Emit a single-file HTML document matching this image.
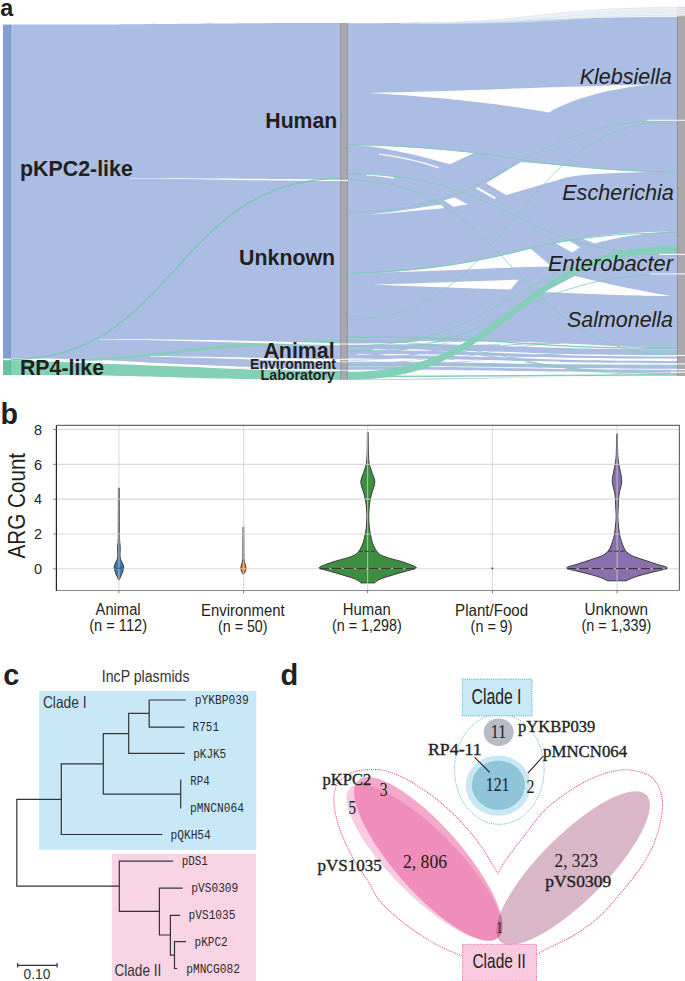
<!DOCTYPE html>
<html><head><meta charset="utf-8"><style>
html,body{margin:0;padding:0;background:#fff;}
body{width:685px;height:981px;overflow:hidden;}
svg{display:block;}
</style></head><body>
<svg width="685" height="981" viewBox="0 0 685 981">
<rect width="685" height="981" fill="#fff"/>
<path d="M11,24.6 C175.5,24.6 175.5,23 340,23 L340,370.5 C175.5,370.5 175.5,358.6 11,358.6 Z" fill="#abbde2"/>
<path d="M348,23.3 C512.5,23.3 512.5,16 677,16 L677,376 C512.5,376 512.5,379.8 348,379.8 Z" fill="#abbde2"/>
<path d="M400,23.2 C520,23 560,7 677,6.8 L677,17 C560,17 500,23 400,23.4 Z" fill="#f2f4fa"/>
<path d="M400,23.2 C538.5,23.2 538.5,7.6 677,7.6" fill="none" stroke="#dce3f2" stroke-width="0.8"/>
<path d="M420,23.1 C548.5,23.1 548.5,9.3 677,9.3" fill="none" stroke="#e3e8f5" stroke-width="0.7"/>
<path d="M440,23 C558.5,23 558.5,10.8 677,10.8" fill="none" stroke="#d8ece5" stroke-width="0.7"/>
<path d="M430,23 C553.5,23 553.5,12.4 677,12.4" fill="none" stroke="#dfe5f3" stroke-width="0.8"/>
<path d="M450,22.9 C563.5,22.9 563.5,13.9 677,13.9" fill="none" stroke="#dcefe8" stroke-width="0.7"/>
<path d="M470,22.8 C573.5,22.8 573.5,15.2 677,15.2" fill="none" stroke="#d5def0" stroke-width="0.8"/>
<path d="M11,360.2 C175.5,360.2 175.5,370.8 340,370.8 L340,379.8 C175.5,379.8 175.5,375 11,375 Z" fill="#83cfb7"/>
<path d="M11,361 C175.5,361 175.5,340.6 340,340.6 L340,344 C175.5,344 175.5,363 11,363 Z" fill="#83cfb7"/>
<path d="M130,178.3 C230,178.3 250,179 340,179.4 L340,181 C250,181 230,179.2 130,178.7 Z" fill="#fff"/>
<path d="M100,339 C200,339.3 260,341 340,343.4 L340,345.2 C260,343.6 200,340.6 100,339.5 Z" fill="#fff"/>
<path d="M150,356 C230,357 280,358.5 340,359.2 L340,362 C280,361 230,358.5 150,356.6 Z" fill="#fff"/>
<path d="M20,359.4 C120,360 250,368 340,369.8 L340,371 C250,370 120,364 20,360.6 Z" fill="#fff"/>
<path d="M11,359.6 C175.5,359.6 175.5,178.6 340,178.6" fill="none" stroke="#72c9ad" stroke-width="1.3"/>
<path d="M369,93 C450,91.5 560,86.5 650,84.5 C615,88 575,97 549,112.4 C520,107.5 470,99 369,93 Z" fill="#fff"/>
<path d="M356,145 C400,146 440,149 474,153 L450,164.2 C420,156 390,148 356,145 Z" fill="#fff"/>
<path d="M486,183.2 L521,162 C560,165 610,170.5 652,172 C620,172.5 590,173.5 568,177 L506,195 Z" fill="#fff"/>
<path d="M369,214.7 C400,211 425,207 442.6,204.2 L444,208.2 C420,210 395,213 369,214.7 Z" fill="#fff"/>
<path d="M444,200.3 L454.5,197.6 L467.6,204.2 L453.2,206.8 Z" fill="#fff"/>
<path d="M360,273 C420,272 480,262 530,248.2 L549.3,264.5 L549,266.5 C500,267.5 440,271 360,273 Z" fill="#fff"/>
<path d="M373,284.5 C430,283 480,280.5 518.7,279.7 L510.8,289.6 C470,288.5 420,286.5 373,284.5 Z" fill="#fff"/>
<path d="M555.4,243 L569.5,241.1 L580,247.3 L572,252.5 Z" fill="#fff"/>
<path d="M575,276 C600,282 630,289 671,296.1 C630,295.5 590,294 544.2,291.9 Z" fill="#fff"/>
<path d="M581.5,238.3 C610,234 640,232 672,231.6 C640,233.5 615,238 594.5,243.6 Z" fill="#fff"/>
<path d="M348,358 C370,350 390,343 420,341.2 C500,340.8 560,342.5 600,345.2 C630,347 655,348.4 677,348.7 L677,376.2 C600,376.5 500,377.5 348,379.8 Z" fill="#fff"/>
<path d="M348,343.6 C512.5,343.6 512.5,349.2 677,349.2 L677,355.2 C512.5,355.2 512.5,349 348,349 Z" fill="#abbde2"/>
<path d="M348,350.2 C512.5,350.2 512.5,356.4 677,356.4 L677,358.6 C512.5,358.6 512.5,354 348,354 Z" fill="#abbde2"/>
<path d="M348,355 C512.5,355 512.5,361 677,361 L677,363.2 C512.5,363.2 512.5,358.6 348,358.6 Z" fill="#abbde2"/>
<path d="M348,361.8 C512.5,361.8 512.5,365.2 677,365.2 L677,368.8 C512.5,368.8 512.5,366 348,366 Z" fill="#abbde2"/>
<path d="M348,366.6 C512.5,366.6 512.5,369.8 677,369.8 L677,372.2 C512.5,372.2 512.5,369.8 348,369.8 Z" fill="#abbde2"/>
<path d="M348,345.5 C512.5,345.5 512.5,372.6 677,372.6 L677,374 C512.5,374 512.5,347 348,347 Z" fill="#abbde2"/>
<path d="M348,352 C434,352 434,338 520,338" fill="none" stroke="#abbde2" stroke-width="1.2"/>
<path d="M348,356 C409,356 409,340 470,340" fill="none" stroke="#abbde2" stroke-width="1.4"/>
<path d="M348,364 C454,364 454,343 560,343" fill="none" stroke="#abbde2" stroke-width="1.0"/>
<path d="M348,368 C474,368 474,342 600,342" fill="none" stroke="#abbde2" stroke-width="0.8"/>
<path d="M348,347 C399,347 399,330 450,330" fill="none" stroke="#abbde2" stroke-width="1.0"/>
<path d="M348,360 C424,360 424,345 500,345" fill="none" stroke="#abbde2" stroke-width="1.6"/>
<path d="M348,366 C494,366 494,352 640,352" fill="none" stroke="#abbde2" stroke-width="1.2"/>
<path d="M348,344.2 C400,344 430,343 470,342.5" fill="none" stroke="#fff" stroke-width="1.2"/>
<path d="M348,359.8 C420,360 480,361 560,362" fill="none" stroke="#fff" stroke-width="1"/>
<path d="M379.5,154.2 C400,157 420,161 438.7,167.9" fill="none" stroke="#fff" stroke-width="1.3"/>
<path d="M366,174.7 C378,175.5 386,176.5 394,177.9" fill="none" stroke="#fff" stroke-width="1.6"/>
<path d="M476.8,187.9 L495.3,198.4" fill="none" stroke="#fff" stroke-width="2"/>
<path d="M348,144.5 C420,146 480,152 520,159.5 C560,166 610,171 677,172" fill="none" stroke="#7ccdb2" stroke-width="0.9"/>
<path d="M348,273 C420,272 480,262 530,248.2 C570,238 620,233 677,232.5" fill="none" stroke="#7ccdb2" stroke-width="1.1"/>
<path d="M348,180 C512.5,180 512.5,355.3 677,355.3" fill="none" stroke="#7ccdb2" stroke-width="0.8"/>
<path d="M348,174 C512.5,174 512.5,255 677,255" fill="none" stroke="#7ccdb2" stroke-width="0.8"/>
<path d="M348,212 C512.5,212 512.5,120.2 677,120.2" fill="none" stroke="#7ccdb2" stroke-width="0.7"/>
<path d="M348,336.8 C512.5,336.8 512.5,348.4 677,348.4" fill="none" stroke="#7ccdb2" stroke-width="1.3"/>
<path d="M348,341 C512.5,341 512.5,375.2 677,375.2" fill="none" stroke="#7ccdb2" stroke-width="0.8"/>
<path d="M348,365 C512.5,365 512.5,365 677,365" fill="none" stroke="#7ccdb2" stroke-width="0.8"/>
<path d="M348,320 C512.5,320 512.5,120.6 677,120.6" fill="none" stroke="#7ccdb2" stroke-width="0.7"/>
<path d="M348,346 C512.5,346 512.5,248 677,248" fill="none" stroke="#7ccdb2" stroke-width="0.8"/>
<path d="M348,351.3 C512.5,351.3 512.5,274 677,274" fill="none" stroke="#7ccdb2" stroke-width="0.8"/>
<path d="M348,371.8 C512.5,371.8 512.5,245.8 677,245.8 L677,252.4 C512.5,252.4 512.5,379.8 348,379.8 Z" fill="#83cfb7"/>
<path d="M348,376.8 C512.5,376.8 512.5,374.8 677,374.8" fill="none" stroke="#83cfb7" stroke-width="1.5"/>
<rect x="3" y="24.6" width="8" height="334" fill="#819fd3"/>
<rect x="3" y="360.2" width="8" height="14.8" fill="#64c5a5"/>
<rect x="10.2" y="24.6" width="0.8" height="334" fill="#7291c8"/><rect x="10.2" y="360.2" width="0.8" height="14.8" fill="#55b695"/>
<rect x="340.2" y="23" width="7.6" height="356.8" fill="#a9a9ad"/>
<rect x="340.2" y="23" width="1" height="356.8" fill="#8f9098"/><rect x="346.8" y="23" width="1" height="356.8" fill="#8f9098"/>
<rect x="677" y="16" width="8" height="360" fill="#a9a9ad"/>
<rect x="677" y="16" width="1" height="360" fill="#8f9098"/>
<rect x="677" y="6.8" width="8" height="9.4" fill="#d9d9db"/>
<rect x="677" y="8.4" width="8" height="0.8" fill="#f4f4f5"/>
<rect x="677" y="10.3" width="8" height="0.8" fill="#f4f4f5"/>
<rect x="677" y="12.2" width="8" height="0.8" fill="#f4f4f5"/>
<rect x="677" y="14.2" width="8" height="0.8" fill="#f4f4f5"/>
<rect x="647" y="119.75" width="38" height="1.1" fill="#f6f6f8"/>
<rect x="659" y="253.85" width="26" height="1.1" fill="#f6f6f8"/>
<rect x="650" y="273.35" width="35" height="1.1" fill="#f6f6f8"/>
<rect x="655" y="354.95" width="30" height="1.1" fill="#f6f6f8"/>
<rect x="660" y="363.35" width="25" height="1.1" fill="#f6f6f8"/>
<rect x="670" y="369.05" width="15" height="1.1" fill="#f6f6f8"/>
<rect x="670" y="371.65" width="15" height="1.1" fill="#f6f6f8"/>
<rect x="340" y="179.9" width="8" height="1.2" fill="#f4f4f6"/>
<rect x="340" y="343.5" width="8" height="1" fill="#f4f4f6"/>
<rect x="340" y="358.7" width="8" height="1.2" fill="#f4f4f6"/>
<rect x="340" y="361.5" width="8" height="0.8" fill="#f4f4f6"/>
<rect x="340" y="369.9" width="8" height="0.8" fill="#f4f4f6"/>
<g font-family="Liberation Sans" font-weight="bold" fill="#231f20">
<text x="0.3" y="16.4" font-size="24" textLength="13" lengthAdjust="spacingAndGlyphs">a</text>
<text x="20" y="176.3" font-size="21.4" textLength="112.8" lengthAdjust="spacingAndGlyphs">pKPC2-like</text>
<text x="20" y="374.7" font-size="21.4" textLength="84" lengthAdjust="spacingAndGlyphs">RP4-like</text>
<text x="265.3" y="127.7" font-size="21.4" textLength="72" lengthAdjust="spacingAndGlyphs">Human</text>
<text x="239.1" y="264.5" font-size="21.4" textLength="96" lengthAdjust="spacingAndGlyphs">Unknown</text>
<text x="263.4" y="358.4" font-size="21.4" textLength="71.3" lengthAdjust="spacingAndGlyphs">Animal</text>
<text x="250" y="368.9" font-size="14" textLength="86" lengthAdjust="spacingAndGlyphs">Environment</text>
<text x="260.5" y="380.3" font-size="14" textLength="74.5" lengthAdjust="spacingAndGlyphs">Laboratory</text>
</g>
<g font-family="Liberation Sans" font-style="italic" fill="#231f20">
<text x="579.7" y="83.6" font-size="21.5" textLength="92" lengthAdjust="spacingAndGlyphs">Klebsiella</text>
<text x="562.2" y="200" font-size="21.5" textLength="111.7" lengthAdjust="spacingAndGlyphs">Escherichia</text>
<text x="548" y="270.7" font-size="21.5" textLength="125" lengthAdjust="spacingAndGlyphs">Enterobacter</text>
<text x="567" y="327.4" font-size="21.5" textLength="106" lengthAdjust="spacingAndGlyphs">Salmonella</text>
</g>
<path d="M119.4,488 C119.42,495 119.47,521.33 119.5,530 C119.53,538.67 119.53,537.78 119.6,540 C119.67,542.22 119.8,541.8 119.9,543.3 C120,544.8 120.18,546.95 120.2,549 C120.22,551.05 119.92,553.8 120,555.6 C120.08,557.4 120.3,558.57 120.7,559.8 C121.1,561.03 121.95,561.97 122.4,563 C122.85,564.03 123.19,565.13 123.4,566 C123.61,566.87 123.73,567.37 123.65,568.2 C123.57,569.03 123.28,569.87 122.9,571 C122.53,572.13 122.02,573.53 121.4,575 C120.78,576.47 119.57,579 119.2,579.8 L118.6,579.8 C118.23,579 117.02,576.47 116.4,575 C115.78,573.53 115.28,572.13 114.9,571 C114.53,569.87 114.23,569.03 114.15,568.2 C114.07,567.37 114.19,566.87 114.4,566 C114.61,565.13 114.95,564.03 115.4,563 C115.85,561.97 116.7,561.03 117.1,559.8 C117.5,558.57 117.72,557.4 117.8,555.6 C117.88,553.8 117.58,551.05 117.6,549 C117.62,546.95 117.8,544.8 117.9,543.3 C118,541.8 118.13,542.22 118.2,540 C118.27,537.78 118.27,538.67 118.3,530 C118.33,521.33 118.38,495 118.4,488 Z" fill="#3a7ab4" stroke="#3a3a3a" stroke-width="1"/>
<path d="M243.8,527 C243.82,531.67 243.83,549.5 243.9,555 C243.97,560.5 244.08,558.77 244.2,560 C244.32,561.23 244.37,561.4 244.6,562.4 C244.83,563.4 245.37,565.02 245.6,566 C245.83,566.98 246.03,567.47 246,568.3 C245.97,569.13 245.78,570 245.4,571 C245.02,572 243.98,573.75 243.7,574.3 L243.1,574.3 C242.82,573.75 241.78,572 241.4,571 C241.02,570 240.83,569.13 240.8,568.3 C240.77,567.47 240.97,566.98 241.2,566 C241.43,565.02 241.97,563.4 242.2,562.4 C242.43,561.4 242.48,561.23 242.6,560 C242.72,558.77 242.83,560.5 242.9,555 C242.97,549.5 242.98,531.67 243,527 Z" fill="#e07b2e" stroke="#3a3a3a" stroke-width="1"/>
<path d="M368.2,432.3 C368.22,434.42 368.25,441.22 368.3,445 C368.35,448.78 368.37,452 368.5,455 C368.63,458 368.67,460.5 369.1,463 C369.53,465.5 370.47,468 371.1,470 C371.73,472 372.28,473.12 372.9,475 C373.52,476.88 374.65,479.3 374.8,481.3 C374.95,483.3 374.3,485.05 373.8,487 C373.3,488.95 372.37,491 371.8,493 C371.23,495 370.82,496.83 370.4,499 C369.98,501.17 369.57,503.67 369.3,506 C369.03,508.33 368.88,510.67 368.8,513 C368.72,515.33 368.7,517.5 368.8,520 C368.9,522.5 369.1,525.5 369.4,528 C369.7,530.5 370.1,532.57 370.6,535 C371.1,537.43 371.7,540.43 372.4,542.6 C373.1,544.77 374.07,546.55 374.8,548 C375.53,549.45 375.8,550.13 376.8,551.3 C377.8,552.47 378.63,553.82 380.8,555 C382.97,556.18 386.63,557.4 389.8,558.4 C392.97,559.4 396.47,559.98 399.8,561 C403.13,562.02 407.07,563.33 409.8,564.5 C412.53,565.67 417.03,566.83 416.2,568 C415.37,569.17 408.7,570.33 404.8,571.5 C400.9,572.67 396.63,573.83 392.8,575 C388.97,576.17 384.47,577.5 381.8,578.5 C379.13,579.5 377.97,580.27 376.8,581 C375.63,581.73 375.13,582.58 374.8,582.9 L360.8,582.9 C360.47,582.58 359.97,581.73 358.8,581 C357.63,580.27 356.47,579.5 353.8,578.5 C351.13,577.5 346.63,576.17 342.8,575 C338.97,573.83 334.7,572.67 330.8,571.5 C326.9,570.33 320.23,569.17 319.4,568 C318.57,566.83 323.07,565.67 325.8,564.5 C328.53,563.33 332.47,562.02 335.8,561 C339.13,559.98 342.63,559.4 345.8,558.4 C348.97,557.4 352.63,556.18 354.8,555 C356.97,553.82 357.8,552.47 358.8,551.3 C359.8,550.13 360.07,549.45 360.8,548 C361.53,546.55 362.5,544.77 363.2,542.6 C363.9,540.43 364.5,537.43 365,535 C365.5,532.57 365.9,530.5 366.2,528 C366.5,525.5 366.7,522.5 366.8,520 C366.9,517.5 366.88,515.33 366.8,513 C366.72,510.67 366.57,508.33 366.3,506 C366.03,503.67 365.62,501.17 365.2,499 C364.78,496.83 364.37,495 363.8,493 C363.23,491 362.3,488.95 361.8,487 C361.3,485.05 360.65,483.3 360.8,481.3 C360.95,479.3 362.08,476.88 362.7,475 C363.32,473.12 363.87,472 364.5,470 C365.13,468 366.07,465.5 366.5,463 C366.93,460.5 366.97,458 367.1,455 C367.23,452 367.25,448.78 367.3,445 C367.35,441.22 367.38,434.42 367.4,432.3 Z" fill="#3d8e3f" stroke="#3a3a3a" stroke-width="1"/>
<path d="M617.4,434 C617.43,436.67 617.47,445.67 617.6,450 C617.73,454.33 617.8,456.67 618.2,460 C618.6,463.33 619.5,467.33 620,470 C620.5,472.67 620.92,474.12 621.2,476 C621.48,477.88 621.77,479.47 621.7,481.3 C621.63,483.13 621.22,485.05 620.8,487 C620.38,488.95 619.57,490.83 619.2,493 C618.83,495.17 618.77,497.5 618.6,500 C618.43,502.5 618.33,505.33 618.2,508 C618.07,510.67 617.77,513.17 617.8,516 C617.83,518.83 618.12,522.03 618.4,525 C618.68,527.97 619.07,531.3 619.5,533.8 C619.93,536.3 620.58,538.47 621,540 C621.42,541.53 621.58,541.83 622,543 C622.42,544.17 622.88,545.67 623.5,547 C624.12,548.33 624.78,549.83 625.7,551 C626.62,552.17 627.62,553.07 629,554 C630.38,554.93 631.5,555.6 634,556.6 C636.5,557.6 640.33,558.77 644,560 C647.67,561.23 652.13,562.67 656,564 C659.87,565.33 667.7,566.67 667.2,568 C666.7,569.33 657.87,570.67 653,572 C648.13,573.33 641.83,574.83 638,576 C634.17,577.17 631.9,578.2 630,579 C628.1,579.8 627.17,580.5 626.6,580.8 L607.4,580.8 C606.83,580.5 605.9,579.8 604,579 C602.1,578.2 599.83,577.17 596,576 C592.17,574.83 585.87,573.33 581,572 C576.13,570.67 567.3,569.33 566.8,568 C566.3,566.67 574.13,565.33 578,564 C581.87,562.67 586.33,561.23 590,560 C593.67,558.77 597.5,557.6 600,556.6 C602.5,555.6 603.62,554.93 605,554 C606.38,553.07 607.38,552.17 608.3,551 C609.22,549.83 609.88,548.33 610.5,547 C611.12,545.67 611.58,544.17 612,543 C612.42,541.83 612.58,541.53 613,540 C613.42,538.47 614.07,536.3 614.5,533.8 C614.93,531.3 615.32,527.97 615.6,525 C615.88,522.03 616.17,518.83 616.2,516 C616.23,513.17 615.93,510.67 615.8,508 C615.67,505.33 615.57,502.5 615.4,500 C615.23,497.5 615.17,495.17 614.8,493 C614.43,490.83 613.62,488.95 613.2,487 C612.78,485.05 612.37,483.13 612.3,481.3 C612.23,479.47 612.52,477.88 612.8,476 C613.08,474.12 613.5,472.67 614,470 C614.5,467.33 615.4,463.33 615.8,460 C616.2,456.67 616.27,454.33 616.4,450 C616.53,445.67 616.57,436.67 616.6,434 Z" fill="#8a6fae" stroke="#3a3a3a" stroke-width="1"/>
<line x1="56.4" y1="568.8" x2="679.4" y2="568.8" stroke="#d0d0d0" stroke-width="1.1" stroke-opacity="0.8"/>
<line x1="56.4" y1="533.98" x2="679.4" y2="533.98" stroke="#d0d0d0" stroke-width="1.1" stroke-opacity="0.8"/>
<line x1="56.4" y1="499.16" x2="679.4" y2="499.16" stroke="#d0d0d0" stroke-width="1.1" stroke-opacity="0.8"/>
<line x1="56.4" y1="464.34" x2="679.4" y2="464.34" stroke="#d0d0d0" stroke-width="1.1" stroke-opacity="0.8"/>
<line x1="56.4" y1="429.52" x2="679.4" y2="429.52" stroke="#d0d0d0" stroke-width="1.1" stroke-opacity="0.8"/>
<line x1="118.9" y1="425.4" x2="118.9" y2="590.5" stroke="#cfcfcf" stroke-width="1.1" stroke-opacity="0.75"/>
<line x1="243.6" y1="425.4" x2="243.6" y2="590.5" stroke="#cfcfcf" stroke-width="1.1" stroke-opacity="0.75"/>
<line x1="367.6" y1="425.4" x2="367.6" y2="590.5" stroke="#cfcfcf" stroke-width="1.1" stroke-opacity="0.75"/>
<line x1="492.4" y1="425.4" x2="492.4" y2="590.5" stroke="#cfcfcf" stroke-width="1.1" stroke-opacity="0.75"/>
<line x1="617.1" y1="425.4" x2="617.1" y2="590.5" stroke="#cfcfcf" stroke-width="1.1" stroke-opacity="0.75"/>
<line x1="319.4" y1="568.6" x2="416.2" y2="568.6" stroke="#3a3a3a" stroke-width="1.1" stroke-dasharray="9.7,2.6"/>
<line x1="358.8" y1="551.3" x2="376.8" y2="551.3" stroke="#3a3a3a" stroke-width="1" stroke-dasharray="4,2"/>
<line x1="566.8" y1="568.6" x2="667.2" y2="568.6" stroke="#3a3a3a" stroke-width="1.1" stroke-dasharray="9.7,2.6"/>
<line x1="608.3" y1="551.2" x2="625.7" y2="551.2" stroke="#3a3a3a" stroke-width="1" stroke-dasharray="4,2"/>
<line x1="114.5" y1="568.3" x2="123.3" y2="568.3" stroke="#2a2a2a" stroke-width="0.8"/>
<rect x="491.6" y="567.6" width="1.6" height="1.6" fill="#333"/>
<path d="M56.4,425.4 H679.4 V590.5" fill="none" stroke="#6a6a6a" stroke-width="1.2"/>
<line x1="56.4" y1="590.5" x2="679.4" y2="590.5" stroke="#8a8a8a" stroke-width="1.2"/>
<line x1="56.4" y1="425.4" x2="56.4" y2="591.1" stroke="#222" stroke-width="1.2"/>
<line x1="53.2" y1="568.8" x2="56.4" y2="568.8" stroke="#777" stroke-width="0.9"/>
<line x1="53.2" y1="533.98" x2="56.4" y2="533.98" stroke="#777" stroke-width="0.9"/>
<line x1="53.2" y1="499.16" x2="56.4" y2="499.16" stroke="#777" stroke-width="0.9"/>
<line x1="53.2" y1="464.34" x2="56.4" y2="464.34" stroke="#777" stroke-width="0.9"/>
<line x1="53.2" y1="429.52" x2="56.4" y2="429.52" stroke="#777" stroke-width="0.9"/>
<line x1="118.9" y1="590.5" x2="118.9" y2="593.2" stroke="#666" stroke-width="0.9"/>
<line x1="243.6" y1="590.5" x2="243.6" y2="593.2" stroke="#666" stroke-width="0.9"/>
<line x1="367.6" y1="590.5" x2="367.6" y2="593.2" stroke="#666" stroke-width="0.9"/>
<line x1="492.4" y1="590.5" x2="492.4" y2="593.2" stroke="#666" stroke-width="0.9"/>
<line x1="617.1" y1="590.5" x2="617.1" y2="593.2" stroke="#666" stroke-width="0.9"/>
<g font-family="Liberation Sans" fill="#231f20">
<text x="0.6" y="423.6" font-size="28.6" font-weight="bold">b</text>
<text x="42" y="574" font-size="14.5" text-anchor="end">0</text>
<text x="42" y="539.18" font-size="14.5" text-anchor="end">2</text>
<text x="42" y="504.36" font-size="14.5" text-anchor="end">4</text>
<text x="42" y="469.54" font-size="14.5" text-anchor="end">6</text>
<text x="42" y="434.72" font-size="14.5" text-anchor="end">8</text>
<text transform="translate(25.3,558.4) rotate(-90)" font-size="24.3" textLength="105.5" lengthAdjust="spacingAndGlyphs">ARG Count</text>
<text x="118.1" y="614.6" font-size="16" text-anchor="middle" textLength="45" lengthAdjust="spacingAndGlyphs">Animal</text>
<text x="118.1" y="631" font-size="16" text-anchor="middle" textLength="57.9" lengthAdjust="spacingAndGlyphs">(n = 112)</text>
<text x="242.8" y="616" font-size="16" text-anchor="middle" textLength="83.6" lengthAdjust="spacingAndGlyphs">Environment</text>
<text x="242.8" y="632.4" font-size="16" text-anchor="middle" textLength="49.5" lengthAdjust="spacingAndGlyphs">(n = 50)</text>
<text x="366.8" y="614.6" font-size="16" text-anchor="middle" textLength="47.9" lengthAdjust="spacingAndGlyphs">Human</text>
<text x="366.8" y="631" font-size="16" text-anchor="middle" textLength="69.8" lengthAdjust="spacingAndGlyphs">(n = 1,298)</text>
<text x="491.6" y="616" font-size="16" text-anchor="middle" textLength="73" lengthAdjust="spacingAndGlyphs">Plant/Food</text>
<text x="491.6" y="632.4" font-size="16" text-anchor="middle" textLength="42" lengthAdjust="spacingAndGlyphs">(n = 9)</text>
<text x="616.3" y="614.6" font-size="16" text-anchor="middle" textLength="63.4" lengthAdjust="spacingAndGlyphs">Unknown</text>
<text x="616.3" y="631" font-size="16" text-anchor="middle" textLength="69.8" lengthAdjust="spacingAndGlyphs">(n = 1,339)</text>
</g>
<rect x="39.1" y="690.9" width="217.2" height="158.9" fill="#c8e8f8"/>
<rect x="111.8" y="853.6" width="144.2" height="127.4" fill="#f9d4e5"/>
<path d="M16.8,799.3 L16.8,886.2 M16.8,799.3 L61.3,799.3 M16.8,886.2 L119.3,886.2 M61.3,763.9 L61.3,834.5 M61.3,763.9 L103.3,763.9 M61.3,834.5 L161.7,834.5 M103.3,733.7 L103.3,794.2 M103.3,733.7 L128.7,733.7 M103.3,794.2 L180.7,794.2 M128.7,713.4 L128.7,753.4 M128.7,713.4 L149.2,713.4 M128.7,753.4 L184.2,753.4 M149.2,700 L149.2,727.1 M149.2,700 L185.3,700 M149.2,727.1 L184,727.1 M180.7,780.2 L180.7,807.8 M119.3,861.2 L119.3,911.3 M119.3,861.2 L172.6,861.2 M119.3,911.3 L159.4,911.3 M159.4,888.2 L159.4,935 M159.4,888.2 L182,888.2 M159.4,935 L170.4,935 M170.4,915.3 L170.4,955.1 M170.4,915.3 L179.6,915.3 M170.4,955.1 L174.5,955.1 M174.5,941.7 L174.5,968.5 M174.5,941.7 L185.4,941.7 M174.5,968.5 L176.6,968.5 M17.7,965.4 L57.1,965.4 M17.7,963.6 L17.7,967 M57.1,963.6 L57.1,967" fill="none" stroke="#333" stroke-width="1.2" stroke-linecap="square"/>
<g font-family="Liberation Sans" fill="#231f20">
<text x="3.3" y="685.3" font-size="29" font-weight="bold">c</text>
<text x="101.8" y="681.6" font-size="15.8" textLength="87.7" lengthAdjust="spacingAndGlyphs" fill="#333">IncP plasmids</text>
<text x="42.9" y="707.8" font-size="16.5" textLength="43.6" lengthAdjust="spacingAndGlyphs" fill="#333">Clade I</text>
<text x="114.4" y="976" font-size="16.5" textLength="47" lengthAdjust="spacingAndGlyphs" fill="#333">Clade II</text>
<text x="23.6" y="978.8" font-size="14.5" textLength="26.8" lengthAdjust="spacingAndGlyphs" fill="#333">0.10</text>
</g>
<g font-family="Liberation Mono" fill="#2a2a2a" font-size="13">
<text x="194.7" y="704" textLength="54" lengthAdjust="spacingAndGlyphs">pYKBP039</text>
<text x="192.6" y="731.2" textLength="26.4" lengthAdjust="spacingAndGlyphs">R751</text>
<text x="193.2" y="758.1" textLength="33" lengthAdjust="spacingAndGlyphs">pKJK5</text>
<text x="190.3" y="784.7" textLength="19.5" lengthAdjust="spacingAndGlyphs">RP4</text>
<text x="189.9" y="811.9" textLength="54" lengthAdjust="spacingAndGlyphs">pMNCN064</text>
<text x="170.5" y="838.8" textLength="40.3" lengthAdjust="spacingAndGlyphs">pQKH54</text>
<text x="181.7" y="865.2" textLength="26.1" lengthAdjust="spacingAndGlyphs">pDS1</text>
<text x="191.3" y="892" textLength="47" lengthAdjust="spacingAndGlyphs">pVS0309</text>
<text x="188.6" y="919" textLength="46.8" lengthAdjust="spacingAndGlyphs">pVS1035</text>
<text x="194.5" y="946" textLength="33.2" lengthAdjust="spacingAndGlyphs">pKPC2</text>
<text x="186.2" y="972.8" textLength="53.8" lengthAdjust="spacingAndGlyphs">pMNCG082</text>
</g>
<defs>
<clipPath id="cpK"><ellipse cx="428.4" cy="858.9" rx="105.4" ry="33.3" transform="rotate(48.5 428.4 858.9)" fill="#000"/></clipPath>
<clipPath id="cpM"><ellipse cx="573.1" cy="868" rx="103.5" ry="32.8" transform="rotate(-45 573.1 868)" fill="#000"/></clipPath>
</defs>
<path d="M461.5,955.8 C457.77,954.17 446.12,949.6 439.1,946 C432.08,942.4 425.97,938.58 419.4,934.2 C412.83,929.82 406.27,925.18 399.7,919.7 C393.13,914.22 385.2,907.58 380,901.3 C374.8,895.02 373.03,889.28 368.5,882 C363.97,874.72 357.47,866.05 352.8,857.6 C348.13,849.15 343.55,839.57 340.5,831.3 C337.45,823.03 335.5,814.55 334.5,808 C333.5,801.45 333.58,796.58 334.5,792 C335.42,787.42 336.55,783.92 340,780.5 C343.45,777.08 349.57,773.33 355.2,771.5 C360.83,769.67 368.55,769.55 373.8,769.5 C379.05,769.45 381.62,769.75 386.7,771.2 C391.78,772.65 398.75,775.48 404.3,778.2 C409.85,780.92 414.47,783.87 420,787.5 C425.53,791.13 430.93,794.58 437.5,800 C444.07,805.42 452.32,812.55 459.4,820 C466.48,827.45 473.57,835.78 480,844.7 C486.43,853.62 495,868.7 498,873.5 M498,873.5 C499.3,871.25 501.82,865.78 505.8,860 C509.78,854.22 515.57,846.95 521.9,838.8 C528.23,830.65 536.5,818.63 543.8,811.1 C551.1,803.57 558.4,798.72 565.7,793.6 C573,788.48 580.22,784 587.6,780.4 C594.98,776.8 602.93,773.73 610,772 C617.07,770.27 623.33,769.33 630,770 C636.67,770.67 645,772.67 650,776 C655,779.33 657.93,784.67 660,790 C662.07,795.33 662.9,800.5 662.4,808 C661.9,815.5 659.8,826.33 657,835 C654.2,843.67 650.72,851.45 645.6,860 C640.48,868.55 633.9,876.97 626.3,886.3 C618.7,895.63 608.75,907.83 600,916 C591.25,924.17 582.55,929.9 573.8,935.3 C565.05,940.7 553.63,945.18 547.5,948.4 C541.37,951.62 538.75,953.57 537,954.6" fill="none" stroke="#e2478f" stroke-width="1.05" stroke-dasharray="1,1"/>
<ellipse cx="424.1" cy="862.5" rx="105.1" ry="32.7" transform="rotate(45.2 424.1 862.5)" fill="#f8cbe0"/>
<ellipse cx="428.4" cy="858.9" rx="105.4" ry="33.3" transform="rotate(48.5 428.4 858.9)" fill="#f4a8ca"/>
<g clip-path="url(#cpK)"><ellipse cx="424.1" cy="862.5" rx="105.1" ry="32.7" transform="rotate(45.2 424.1 862.5)" fill="#ef8dbb"/></g>
<ellipse cx="573.1" cy="868" rx="103.5" ry="32.8" transform="rotate(-45 573.1 868)" fill="#d9b6c8"/>
<g clip-path="url(#cpM)"><ellipse cx="428.4" cy="858.9" rx="105.4" ry="33.3" transform="rotate(48.5 428.4 858.9)" fill="#cf6b9e"/></g>
<ellipse cx="499.3" cy="769.3" rx="44.8" ry="55" fill="none" stroke="#3d9bd3" stroke-width="0.9" stroke-dasharray="1,1.2"/>
<ellipse cx="498.2" cy="785.6" rx="32.4" ry="30.2" fill="#c9e7f5"/>
<ellipse cx="498.4" cy="785.2" rx="26.5" ry="24.6" fill="#8fc4d9"/>
<ellipse cx="498.7" cy="732.2" rx="15" ry="13.7" fill="#b8bcc6"/>
<path d="M474.7,757.4 L489.7,772.4 M543.4,756 L527.9,773.2" stroke="#231f20" stroke-width="1.1"/>
<rect x="462.4" y="679.1" width="69.6" height="36.8" fill="#c9e9f7" stroke="#3d9bd3" stroke-width="0.9" stroke-dasharray="1,1.2"/>
<rect x="462.6" y="944.3" width="73.9" height="37" fill="#f9c9df" stroke="#e3569b" stroke-width="0.9" stroke-dasharray="1,1.2"/>
<g font-family="Liberation Sans" fill="#231f20">
<text x="280.6" y="684.8" font-size="29" font-weight="bold">d</text>
<text x="471.5" y="703.6" font-size="21.5" textLength="50" lengthAdjust="spacingAndGlyphs">Clade I</text>
<text x="472.4" y="968.2" font-size="20.6" textLength="53.4" lengthAdjust="spacingAndGlyphs">Clade II</text>
</g>
<g font-family="Liberation Serif" fill="#231f20" stroke="#231f20" stroke-width="0.35">
<text x="490.8" y="738.3" font-size="19" textLength="15.4" lengthAdjust="spacingAndGlyphs" stroke-width="0.08">11</text>
<text x="517.9" y="731.9" font-size="16.6" textLength="77.4" lengthAdjust="spacingAndGlyphs">pYKBP039</text>
<text x="427.9" y="754.7" font-size="16.6" textLength="53.9" lengthAdjust="spacingAndGlyphs">RP4-11</text>
<text x="485.8" y="790.8" font-size="19" textLength="23.7" lengthAdjust="spacingAndGlyphs" stroke-width="0.08">121</text>
<text x="526.6" y="792.6" font-size="19" textLength="7.9" lengthAdjust="spacingAndGlyphs" stroke-width="0.08">2</text>
<text x="543.1" y="757.2" font-size="16.6" textLength="84" lengthAdjust="spacingAndGlyphs">pMNCN064</text>
<text x="322.6" y="785" font-size="16.6" textLength="48.7" lengthAdjust="spacingAndGlyphs">pKPC2</text>
<text x="379.7" y="796.3" font-size="18.5" textLength="7.9" lengthAdjust="spacingAndGlyphs" stroke-width="0.08">3</text>
<text x="348.4" y="814" font-size="18.5" textLength="7.6" lengthAdjust="spacingAndGlyphs" stroke-width="0.08">5</text>
<text x="317.4" y="870.5" font-size="16.6" textLength="64.4" lengthAdjust="spacingAndGlyphs">pVS1035</text>
<text x="403" y="868.4" font-size="18.5" textLength="44" lengthAdjust="spacingAndGlyphs" stroke-width="0.08">2, 806</text>
<text x="554.6" y="867.4" font-size="18.5" textLength="43.2" lengthAdjust="spacingAndGlyphs" stroke-width="0.08">2, 323</text>
<text x="545.3" y="887.2" font-size="16.6" textLength="65.8" lengthAdjust="spacingAndGlyphs">pVS0309</text>
<text x="496.5" y="932.7" font-size="16.5" textLength="6" lengthAdjust="spacingAndGlyphs" stroke-width="0.08">1</text>
</g>
</svg>
</body></html>
